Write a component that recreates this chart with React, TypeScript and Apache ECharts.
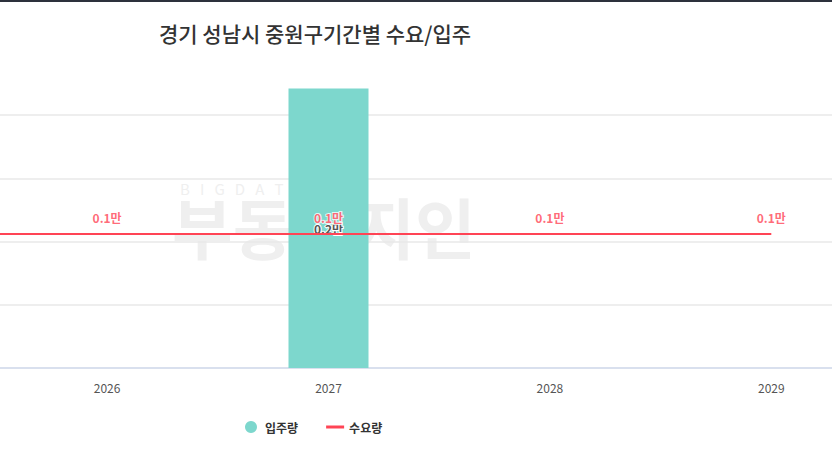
import React, { useEffect, useRef } from "react";
import * as echarts from "echarts";

const TITLE = "경기 성남시 중원구기간별 수요/입주";
const years = ["2025", "2026", "2027", "2028", "2029"];
const supply: (number | null)[] = [null, null, 2210, null, null]; // 입주량
const demand: number[] = [1060, 1060, 1060, 1060, 1060]; // 수요량
const yTicks = { min: 0, max: 2000, interval: 500 };

const FONT = "'Noto Sans CJK KR', 'Noto Sans', sans-serif";
const OFFSET_X = 240; // chart div shifted left of the page

const fmt = (v: number) => (v / 10000).toFixed(1) + "만";

export default function App() {
  const ref = useRef<HTMLDivElement>(null);
  useEffect(() => {
    document.body.style.margin = "0";
    document.body.style.overflow = "hidden";
    if (!ref.current) return;
    const chart = echarts.init(ref.current, undefined, { renderer: "svg" });
    chart.setOption({
      animation: false,
      textStyle: { fontFamily: FONT },
      title: {
        text: TITLE,
        left: 154 + OFFSET_X,
        top: 17,
        textStyle: { fontFamily: FONT, fontSize: 21, fontWeight: 500, color: "#333" },
      },
      graphic: [
        { type: "rect", left: 0, top: 0, shape: { width: 1140, height: 2 }, style: { fill: "#2d313c" }, z: 10 },
        {
          type: "text",
          x: 180 + OFFSET_X,
          y: 181,
          z: 0,
          style: { text: "B   I   G   D   A   T   A", fill: "#efefef", fontSize: 15, fontFamily: FONT },
        },
        {
          type: "text",
          x: 172 + OFFSET_X,
          y: 192,
          z: 0,
          style: { text: "부동산지인", fill: "#efefef", fontSize: 66, fontWeight: "bold", fontFamily: FONT },
        },
      ],
      legend: {
        left: 240 + OFFSET_X,
        top: 416,
        itemWidth: 18,
        itemHeight: 12,
        itemGap: 28,
        textStyle: { fontFamily: FONT, fontSize: 12, fontWeight: "bold", color: "#333" },
        data: [
          { name: "입주량", icon: "circle" },
          { name: "수요량", icon: "path://M0,0 L18,0 L18,3 L0,3 Z" },
        ],
      },
      grid: { left: 15, right: 18, top: 115, bottom: 99 },
      xAxis: {
        type: "category",
        data: years,
        axisLine: { lineStyle: { color: "#d9e0ee", width: 2 } },
        axisTick: { show: false },
        axisLabel: {
          color: "#555",
          fontSize: 12,
          margin: 13,
          fontFamily: FONT,
          interval: (i: number) => i > 0,
        },
      },
      yAxis: {
        type: "value",
        min: yTicks.min,
        max: yTicks.max,
        interval: yTicks.interval,
        axisLabel: { show: false },
        axisLine: { show: false },
        axisTick: { show: false },
        splitLine: { lineStyle: { color: "#e8e8e8", width: 1.5 } },
      },
      series: [
        {
          name: "입주량",
          type: "bar",
          data: supply,
          barWidth: 80,
          clip: false,
          itemStyle: { color: "#7dd7cd" },
          label: {
            show: true,
            position: "inside",
            formatter: (p: any) => fmt(p.value),
            color: "#555",
            fontSize: 12,
            fontWeight: "bold",
            fontFamily: FONT,
            textBorderColor: "#fff",
            textBorderWidth: 2,
          },
        },
        {
          name: "수요량",
          type: "line",
          data: demand,
          symbol: "none",
          lineStyle: { color: "#ff4455", width: 2 },
          itemStyle: { color: "#ff4455" },
          z: 5,
        },
        {
          name: "수요량라벨",
          type: "scatter",
          data: demand,
          symbolSize: 1,
          itemStyle: { color: "rgba(0,0,0,0)" },
          silent: true,
          label: {
            show: true,
            position: "top",
            distance: 10,
            formatter: (p: any) => (p.dataIndex === 0 ? "" : fmt(p.value)),
            color: "#ff4455",
            fontSize: 12,
            fontWeight: "bold",
            fontFamily: FONT,
            textBorderColor: "#fff",
            textBorderWidth: 2,
          },
          z: 6,
        },
      ],
    });
    return () => chart.dispose();
  }, []);
  return (
    <div
      ref={ref}
      style={{ position: "fixed", left: -OFFSET_X, top: 0, width: 1140, height: 467, background: "#fff" }}
    />
  );
}
